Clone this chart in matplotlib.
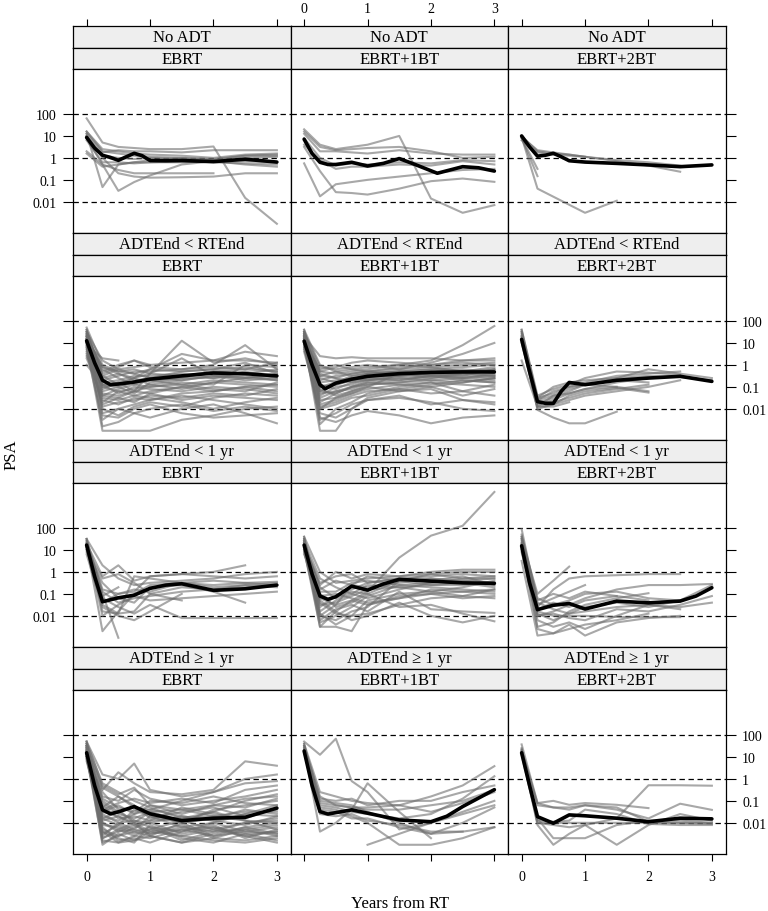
import numpy as np
import matplotlib.pyplot as plt
from matplotlib.ticker import FixedLocator, NullLocator, NullFormatter, FixedFormatter

plt.rcParams['font.family'] = ['Liberation Serif', 'DejaVu Serif']

# ---------------------------------------------------------------
# data: PSA, stored as log10(PSA)
# one row = one patient, measured at the visit times below
# ---------------------------------------------------------------
N = None
visits = [0, 0.25, 0.5, 0.75, 1, 1.5, 2, 2.5, 3]

adt_groups = ["No ADT", "ADTEnd < RTEnd", "ADTEnd < 1 yr", "ADTEnd \u2265 1 yr"]
rt_groups = ["EBRT", "EBRT+1BT", "EBRT+2BT"]

psa_ticks = [0.01, 0.1, 1, 10, 100]
psa_tick_labels = ["0.01", "0.1", "1", "10", "100"]
ref_lines = [0.01, 1, 100]
year_ticks = [0, 1, 2, 3]
year_tick_labels = ["0", "1", "2", "3"]

# --- No ADT ---
noadt_ebrt = [
    [1.8, 0.7, 0.5, 0.45, 0.4, 0.4, 0.52, -1.82, -3.0],
    [1.1, -1.33, -0.3, -0.2, -0.1, 0.0, -0.1, 0.1, 0.15],
    [0.3, -0.3, -1.5, -1.1, -0.8, -0.3, -0.15, -0.15, -0.2],
    [0.9, -0.3, -0.55, -0.7, -0.7, -0.7, -0.7, N, N],
    [1.0, 0.0, -0.7, -0.85, -0.9, -0.88, -0.85, -0.7, -0.7],
    [1.2, 0.4, 0.3, 0.2, 0.15, 0.1, 0.0, 0.15, 0.2],
    [1.0, 0.1, 0.0, -0.05, 0.0, -0.05, -0.1, 0.0, 0.05],
    [0.8, -0.2, -0.2, -0.25, -0.2, -0.2, -0.15, -0.3, -0.4],
    [1.1, 0.25, 0.35, 0.3, 0.3, 0.25, 0.35, 0.35, 0.35],
    [0.2, -0.4, -0.3, -0.2, -0.2, -0.15, -0.2, -0.25, -0.3],
    [1.2, 0.3, 0.2, 0.1, 0.05, 0.0, -0.05, 0.1, 0.1],
]
noadt_ebrt1 = [
    [1.3, 0.6, 0.4, 0.5, 0.6, 1.0, -1.85, -2.5, -2.15],
    [1.2, 0.5, 0.35, 0.4, 0.45, 0.5, 0.3, 0.0, 0.05],
    [1.1, 0.3, 0.3, 0.25, 0.2, 0.35, 0.2, 0.15, 0.15],
    [0.9, 0.0, -0.35, -0.25, -0.3, -0.2, -0.25, -0.1, -0.15],
    [-0.25, -1.75, -1.2, -1.1, -1.0, -0.85, -0.7, -0.55, -0.5],
    [0.5, -0.6, -1.56, -1.6, -1.67, -1.4, -1.06, -0.94, -1.09],
    [0.6, -0.1, -0.5, -0.4, -0.4, -0.3, -0.35, -0.15, -0.3],
]
noadt_ebrt2 = [
    [1.0, 0.3, 0.2, 0.15, 0.05, -0.1, -0.2, -0.35, N],
    [0.95, 0.35, 0.25, 0.15, 0.05, -0.15, -0.35, -0.63, N],
    [0.9, -0.83, N, N, N, N, N, N, N],
    [0.95, -1.4, N, N, -2.5, -1.95, N, N, N],
    [0.8, 0.25, 0.15, 0.1, 0.05, N, N, N, N],
    [0.9, -0.5, N, N, N, N, N, N, N],
]

# --- ADTEnd < RTEnd ---
rtend_ebrt = [
    [1.5, 0.2, -0.2, -0.1, 0.0, 0.1, 0.2, 0.2, 0.1],
    [1.3, -0.1, -0.3, -0.4, -0.2, -0.3, -0.2, -0.1, -0.3],
    [1.6, -0.5, -0.9, -0.6, -0.4, 1.1, 0.1, 0.3, 0.0],
    [1.2, -1.0, -1.2, -1.1, -0.9, -0.7, -0.5, -0.4, -0.5],
    [1.0, -1.5, -1.6, -1.4, -1.2, -1.0, -0.8, -0.6, -0.7],
    [0.9, -3.0, -3.0, -3.0, -3.0, -2.5, -2.3, -2.0, -1.9],
    [1.4, -2.2, -2.0, -1.8, -1.6, -1.3, -1.2, -1.0, -1.2],
    [1.1, -0.8, -0.7, -0.5, -0.5, -0.4, -0.6, -0.5, -0.7],
    [0.8, -1.8, -1.5, -1.7, -1.3, -1.6, -1.4, -1.5, -1.6],
    [1.3, -0.3, 0.0, 0.2, -0.1, -0.2, 0.0, 0.9, -0.2],
    [1.5, -1.2, -1.0, -1.3, -0.8, -0.6, -0.3, -0.2, -0.3],
    [0.6, -2.5, -2.0, -2.2, -2.4, -2.0, -1.8, -2.2, -2.66],
    [1.0, -0.6, -0.4, -0.7, -0.6, -0.5, -0.4, -0.6, -0.4],
    [1.2, -1.4, -1.1, -0.9, -0.7, -0.9, -0.7, -0.8, -0.9],
    [0.4, -0.9, -1.3, -1.0, -1.1, -1.2, -1.0, -1.1, -1.3],
    [1.7, 0.0, -0.3, -0.2, -0.4, -0.5, -0.3, -0.4, -0.2],
    [1.1, -2.0, -2.3, -1.9, -1.7, -1.9, -1.5, -1.3, -1.4],
    [1.3, -0.2, -0.6, -0.9, -1.0, -0.8, -0.9, 0.0, -0.1],
    [0.7, -1.6, -1.8, -1.5, -1.6, -1.4, -1.6, -1.8, -2.0],
    [1.4, -0.7, -0.5, -0.3, -0.3, -0.2, -0.1, -0.2, 0.1],
    [1.0, -1.1, -0.8, -1.2, -0.4, 0.3, -0.5, -0.7, -0.6],
    [1.2, -2.8, -2.6, -2.2, -2.0, -1.8, -2.1, -1.9, -2.1],
    [0.9, 0.3, 0.2, N, N, N, N, N, N],
    [1.5, -0.4, -0.1, 0.2, 0.0, N, N, N, N],
    [1.1, -1.3, -1.4, -1.2, -1.0, -0.9, -1.1, -1.2, -0.8],
    [1.6, -0.9, -0.8, -0.6, -0.9, -1.1, -0.8, -0.9, -1.0],
    [0.5, -1.7, -1.2, -1.4, -1.5, -1.7, -2.0, -1.7, -1.5],
    [1.3, -0.5, -0.2, -0.4, -0.6, -0.3, -0.2, 0.1, -0.4],
    [0.8, -2.3, -2.4, -2.0, -1.8, -2.2, -2.4, -2.3, -2.2],
    [1.4, -1.0, -0.9, -0.8, -0.7, -0.6, -0.6, -0.3, -0.6],
    [1.0, -1.9, -1.7, -1.6, -1.4, -1.5, -1.3, -1.4, -1.1],
    [1.2, -0.1, -0.4, -0.6, -0.2, 0.5, 0.2, 0.6, 0.4],
    [0.0, -0.9, -1.0, -0.8, -0.6, -0.7, -0.5, -0.6, -0.5],
    [0.3, -1.4, -1.5, -1.2, -1.3, -1.0, -1.2, -1.0, -0.9],
]
rtend_ebrt1 = [
    [1.3, 0.4, 0.3, 0.35, 0.3, 0.3, 0.3, 0.2, 0.2],
    [1.6, 0.0, -0.3, -0.2, -0.1, 0.0, 0.2, 0.9, 1.77],
    [1.2, -0.5, -0.6, -0.4, -0.3, -0.2, 0.1, 0.5, 1.0],
    [1.4, -1.2, -1.3, -1.0, -0.7, -0.5, -0.4, -0.3, -0.3],
    [1.1, -3.0, -3.0, -2.0, -1.5, -1.2, -1.0, -0.8, -0.6],
    [0.9, -2.0, -1.8, -1.5, -1.4, -1.1, -0.9, -0.7, -0.8],
    [1.5, -0.8, -0.7, -0.6, -0.5, -0.4, -0.3, -0.5, -0.2],
    [1.0, -1.5, -1.2, -1.0, -0.9, -0.8, -0.7, -0.6, -0.5],
    [1.3, -2.5, -2.2, -1.8, -1.6, -1.5, -1.7, -2.0, -2.1],
    [0.7, -1.0, -0.9, -0.7, -0.6, -0.5, -0.4, -0.3, -0.4],
    [1.2, -0.3, -0.4, -0.3, -0.2, 0.0, -0.1, 0.0, 0.1],
    [1.4, -1.8, -1.6, -1.3, -1.1, -0.9, -0.8, -1.2, -1.4],
    [1.1, -0.6, -0.8, -0.5, -0.4, -0.3, -0.2, -0.1, 0.0],
    [0.8, -2.2, -2.4, -2.0, -1.6, -1.4, -1.8, -1.6, -1.7],
    [1.5, -0.9, -1.1, -0.8, -0.7, -0.6, -0.5, -0.4, -0.5],
    [1.3, -1.4, -1.0, -0.9, -0.6, -0.7, -0.5, -0.6, -0.7],
    [1.0, -0.2, 0.0, -0.2, -0.3, -0.4, -0.3, -0.2, -0.3],
    [1.6, -1.1, -1.4, -1.2, -1.0, -0.4, -0.6, -0.4, -0.2],
    [1.2, -2.7, -2.0, -1.7, -1.3, -1.0, -0.8, -0.9, -1.0],
    [0.9, -1.6, -1.5, -1.2, -0.9, -0.8, -0.6, -0.5, -0.6],
    [1.4, -0.4, -0.6, -0.8, -0.5, -0.5, -0.4, -0.6, -0.4],
    [1.1, -1.3, -1.2, -1.1, -0.8, -0.9, -1.0, -1.4, -1.1],
    [1.3, -0.7, -0.5, -0.4, -0.3, -0.1, 0.0, 0.2, 0.3],
    [1.0, -1.9, -1.7, -1.4, -1.2, -1.1, -1.3, -1.2, -0.9],
    [1.5, -0.1, -0.2, -0.1, 0.0, -0.2, -0.1, -0.3, -0.1],
    [1.2, -1.0, -0.8, -0.6, -0.7, -0.6, -0.7, -0.8, -0.6],
    [0.8, -2.4, -2.6, -2.3, -2.1, -2.3, -2.66, -2.4, -2.3],
    [1.4, -1.7, -1.3, -1.0, -0.8, -0.7, -0.5, -0.4, -0.5],
    [1.1, -0.5, -0.3, -0.5, -0.4, -0.3, -0.5, -0.7, -0.8],
    [1.3, -1.2, -0.9, -0.7, -0.4, -0.3, -0.2, -0.3, -0.2],
    [0.6, -2.0, -1.5, -1.3, -1.0, -1.2, -1.1, -1.6, -1.8],
    [1.5, -0.3, -0.1, 0.1, 0.2, 0.1, 0.0, 0.1, 0.0],
]
rtend_ebrt2 = [
    [1.6, -1.5, -1.3, -1.0, -0.8, -0.5, -0.4, -0.3, N],
    [1.3, -1.7, -1.5, -1.2, -0.9, -0.6, -0.2, -0.4, -0.6],
    [1.1, -1.8, -1.6, -1.3, -1.1, -0.8, -0.6, -0.5, -0.75],
    [1.5, -1.6, -1.2, -1.0, -0.9, -0.7, -0.8, N, N],
    [0.2, -1.9, -1.4, -1.1, -0.9, -1.0, -1.2, N, N],
    [1.4, -2.05, -2.4, -2.66, -2.66, -2.13, N, N, N],
    [1.2, -1.75, -1.7, -1.5, -1.3, -1.1, -0.9, N, N],
    [1.0, -1.9, -1.8, -1.6, -1.4, -1.2, -1.0, -0.7, N],
    [1.3, -1.5, -1.0, -0.8, -0.7, -0.6, -0.5, -0.55, -0.7],
    [1.2, -1.9, -1.9, -1.7, N, N, N, N, N],
    [1.5, -1.6, -1.4, -1.3, -1.1, -1.0, N, N, N],
    [1.1, -2.0, -1.8, -1.4, -1.2, -1.05, -1.26, N, N],
    [1.6, -1.4, -1.1, -0.9, -0.6, -0.3, -0.35, -0.45, N],
]

# --- ADTEnd < 1 yr ---
yr1_ebrt = [
    [1.5, 0.3, -0.3, -0.6, -0.5, -0.4, -0.3, -0.1, 0.0],
    [1.3, -0.2, 0.3, -0.4, -0.2, -0.1, 0.0, 0.3, N],
    [1.2, -2.7, -1.8, -1.0, -0.6, -0.5, -0.6, -0.5, -0.6],
    [1.0, -1.0, -3.0, N, N, N, N, N, N],
    [1.4, -0.8, -1.0, -0.9, -0.2, -0.1, -0.2, -0.3, -0.2],
    [1.1, -1.5, -1.9, -1.8, -1.0, -0.7, -0.8, -0.6, -0.5],
    [1.3, -1.2, -1.6, -1.9, -1.5, -2.1, -2.1, -2.1, -2.1],
    [0.9, -0.5, -1.2, -1.4, -0.7, -0.6, -0.9, -1.4, N],
    [1.5, -1.8, -1.9, -0.2, -0.3, -0.5, -0.7, -0.6, -0.7],
    [1.2, -2.0, -1.5, -1.1, -1.3, -1.2, -1.1, -1.0, -0.9],
    [1.0, -0.3, -0.1, -0.5, -1.0, -1.3, N, N, N],
    [1.4, -1.4, -1.0, -0.8, -0.9, -0.5, -0.4, -0.5, -0.45],
    [0.8, -1.6, -2.0, -2.2, -1.8, -1.0, N, N, N],
    [1.3, -0.9, -1.4, -1.2, -1.1, -0.9, -0.8, -0.7, -0.6],
    [1.5, -1.1, -0.7, N, N, N, N, N, N],
]
yr1_ebrt1 = [
    [1.6, 0.0, -0.5, -0.4, -0.3, -0.2, -0.1, 0.0, 0.0],
    [1.3, -2.5, -1.8, -1.3, -0.9, 0.65, 1.65, 2.1, 3.64],
    [1.2, -0.6, 0.0, -0.3, -0.1, -0.2, 0.0, 0.1, 0.1],
    [1.4, -1.2, -1.5, -0.6, -0.2, -0.4, -0.1, -0.3, -0.2],
    [1.0, -2.5, -2.5, -2.7, -1.5, -1.2, -1.0, -0.9, -0.8],
    [1.5, -1.8, -1.3, -1.0, -1.2, -0.8, -0.5, -0.4, -0.5],
    [1.1, -1.0, -1.6, -1.4, -1.0, -1.6, -1.5, -1.9, -2.25],
    [0.9, -2.0, -2.2, -1.8, -1.6, -0.4, -0.6, -0.5, -0.6],
    [1.3, -0.8, -0.4, -0.6, -0.7, -0.5, -0.3, -0.5, -0.7],
    [1.6, -1.4, -1.9, -2.0, -1.3, -1.0, -0.9, -0.7, -0.4],
    [1.2, -1.6, -1.1, -0.8, -0.5, -0.3, -0.2, -0.1, -0.2],
    [1.0, -2.2, -1.7, -1.5, -1.8, -0.9, -1.7, -1.8, -1.87],
    [1.4, -0.3, -0.7, -1.0, -0.6, -0.7, -0.6, -0.6, -0.5],
    [1.1, -1.1, -1.0, -1.2, -1.4, -1.2, -0.8, -0.9, -1.0],
    [1.5, -2.3, -2.0, -1.6, -1.1, -0.6, -0.5, -0.3, -0.3],
    [0.8, -0.9, -0.9, -0.5, -0.4, -0.6, -0.7, -0.8, -0.9],
    [1.3, -1.9, -2.4, -2.0, -1.9, -1.5, -1.2, -1.1, -1.2],
    [1.2, -0.5, -0.2, -0.1, -0.5, -0.3, -0.4, -0.2, -0.6],
    [1.4, -1.5, -1.4, -1.1, -0.8, -0.7, -0.9, -1.1, -0.8],
    [1.0, -1.3, -1.8, -2.2, -2.0, -1.4, -2.0, -2.3, -2.0],
    [1.3, -0.7, -1.2, -0.9, -1.0, -0.4, -0.3, -0.4, -0.3],
    [1.5, -2.0, -1.5, -1.3, -1.5, -1.1, -1.0, -1.2, -1.1],
]
yr1_ebrt2 = [
    [1.95, -1.5, -1.2, -0.9, -0.6, N, N, N, N],
    [1.5, -1.0, -0.4, 0.24, N, N, N, N, N],
    [1.3, -1.6, -0.8, -0.3, -0.2, -0.15, -0.1, -0.1, N],
    [1.6, -2.0, -1.8, -1.5, -1.2, -0.8, -0.6, -0.6, -0.55],
    [1.0, -2.5, -2.3, -1.8, -1.5, -1.2, -0.97, N, N],
    [1.4, -1.4, -1.7, -1.9, -1.8, -1.6, -1.5, -1.6, -1.4],
    [0.5, -2.9, -2.8, -2.6, -2.4, -2.2, -1.9, N, N],
    [1.2, -1.8, -2.0, -2.0, -2.0, -2.05, -2.06, -2.06, N],
    [1.7, -1.2, -1.5, -1.3, -1.0, -0.9, -1.2, -1.3, N],
    [1.1, -2.2, -2.5, -2.3, -2.6, -2.0, -1.5, -1.7, N],
    [1.5, -1.7, -1.4, -1.6, -1.3, -1.1, N, N, N],
    [0.9, -2.0, -1.9, -2.1, -2.2, -1.7, -1.8, -1.5, -1.1],
    [1.3, -2.6, -2.8, -2.4, -2.9, -2.3, -2.1, -2.0, N],
    [1.6, -1.3, -1.0, -1.2, -0.9, -1.1, -1.3, N, N],
    [1.2, -1.9, -2.2, -1.9, -1.6, -1.4, -1.6, -1.3, -0.6],
]

# --- ADTEnd >= 1 yr ---
yr_ebrt = [
    [1.7, 0.2, 0.0, 0.7, -0.5, -0.8, -0.6, 0.0, 0.2],
    [1.5, -0.5, 0.3, -0.2, -0.6, -0.7, -0.5, 0.8, 0.6],
    [1.3, -2.0, -2.4, -2.3, -2.5, -2.2, -2.4, -2.3, -2.1],
    [1.2, -3.0, -2.5, -2.8, -2.4, -2.6, -2.8, -2.9, -2.7],
    [1.4, -1.5, -1.2, -1.6, -1.4, -1.0, -0.6, -0.2, -0.1],
    [1.6, -0.2, -0.6, -1.0, -1.3, -1.8, -1.5, -1.0, -0.7],
    [1.0, -2.6, -2.0, -1.9, -2.2, -2.4, -2.0, -1.6, -1.2],
    [1.1, -1.1, -1.6, -1.8, -1.5, -1.4, -1.7, -1.9, -2.3],
    [1.5, -2.3, -2.6, -2.2, -2.0, -2.5, -2.2, -2.6, -2.4],
    [0.9, -1.8, -2.1, -1.4, -1.7, -2.0, -1.8, -1.4, -1.6],
    [1.3, -0.8, -1.0, -0.5, -0.9, -1.2, -1.0, -0.8, -0.5],
    [1.7, -2.8, -2.9, -2.6, -2.7, -2.3, -2.6, -2.4, -2.5],
    [1.2, -1.3, -0.8, -1.2, -1.8, -1.5, -1.3, -1.7, -1.4],
    [1.4, -2.1, -2.2, -2.5, -2.3, -1.9, -2.3, -2.0, -1.8],
    [1.0, -0.6, -1.4, -2.0, -2.6, -2.9, -2.5, -2.2, -2.0],
    [1.6, -1.7, -1.9, -1.6, -1.2, -1.6, -1.2, -1.3, -0.9],
    [1.1, -2.4, -2.7, -2.9, -2.1, -2.7, -2.9, -2.5, -2.8],
    [1.3, -1.0, -1.5, -1.9, -2.0, -1.7, -1.9, -2.1, -1.7],
    [1.5, -2.7, -2.3, -2.0, -2.4, -2.1, -2.7, -2.8, -2.6],
    [0.8, -1.9, -1.7, -2.1, -1.9, -1.3, -1.6, -1.8, -1.3],
    [1.4, -0.4, -0.8, -1.3, -1.6, -2.0, -1.4, -1.2, -1.0],
    [1.2, -2.2, -2.8, -2.7, -2.9, -2.4, -2.1, -2.7, -2.3],
    [1.6, -1.4, -1.1, -0.9, -1.1, -0.9, -1.1, -0.5, -0.3],
    [1.0, -2.9, -2.6, -2.4, -2.2, -2.8, -2.4, -2.0, -1.9],
    [1.3, -1.6, -2.0, -2.3, -1.7, -2.2, -2.0, -2.4, -2.2],
    [1.5, -0.9, -1.3, -1.5, -1.0, -1.1, -0.8, -1.1, -1.2],
    [1.1, -2.5, -2.1, -2.4, -2.6, -2.0, -2.6, -2.2, -2.5],
    [1.4, -1.2, -1.8, -1.7, -1.9, -1.8, -1.7, -1.5, -1.5],
    [0.9, -2.0, -2.3, -2.6, -2.3, -2.6, -2.3, -2.6, -2.9],
    [1.7, -0.3, -0.7, -0.4, -1.2, -1.4, -1.2, -0.9, -0.8],
    [1.2, -2.7, -2.4, -2.1, -2.5, -2.3, -2.2, -2.5, -2.4],
    [1.3, -1.8, -1.5, -1.3, -1.4, -1.7, -1.9, -1.6, -1.7],
    [1.5, -2.4, -2.9, -2.8, -2.6, -2.9, -2.7, -2.3, -2.6],
    [1.0, -1.5, -1.7, -2.0, -1.5, -1.9, -1.5, -1.9, -2.0],
]
yr_ebrt1 = [
    [1.7, 1.1, 1.83, -0.1, -0.6, -2.3, -2.0, -1.6, -1.2],
    [1.6, -0.6, -0.8, -1.0, -1.1, -1.2, -0.8, -0.3, 0.58],
    [1.5, -0.9, -1.0, -0.9, -1.2, -1.0, -1.0, -0.6, -0.3],
    [1.4, -2.4, -2.0, -1.4, -0.2, -1.5, -2.7, N, N],
    [1.3, -1.2, -1.3, -1.5, -1.6, -1.8, -1.6, -0.9, 0.12],
    [1.5, -0.8, -1.2, -1.3, -1.4, -1.4, -1.2, -1.0, -0.5],
    [1.2, -1.6, -1.7, -1.6, -1.9, -2.1, -2.4, -2.4, -2.2],
    [1.6, -1.4, -1.5, -1.8, -1.8, -2.2, -2.5, -2.0, -1.3],
    [N, N, N, N, -3.0, -2.5, -2.0, -1.5, -1.0],
    [1.3, -1.0, -1.1, -1.2, -1.5, -2.0, -2.5, -2.4, N],
    [1.4, -1.3, -1.4, -1.7, -2.0, -3.0, -3.0, -2.7, -2.2],
    [1.5, -1.1, -1.2, -1.3, -1.3, -1.2, -1.5, -1.1, -0.6],
]
yr_ebrt2 = [
    [1.57, -1.1, -1.0, -1.18, -1.1, -1.18, -1.33, N, N],
    [1.4, -2.0, -2.1, -2.2, -2.1, -1.8, -0.29, -0.29, -0.31],
    [1.3, -2.1, -3.0, -2.5, -2.1, -3.0, -2.1, -1.6, -1.9],
    [1.2, -1.8, -2.7, -2.7, -2.7, -2.1, -1.9, -1.9, -2.0],
    [1.35, -1.2, -1.3, -1.4, -1.2, -1.4, -1.8, -1.13, -1.41],
    [1.1, -2.0, -2.0, -2.0, -2.0, -2.0, -2.0, -2.0, -2.05],
    [1.3, -1.1, -1.3, -1.3, -1.2, -1.3, -1.95, -2.0, -2.0],
    [1.25, -1.9, -1.95, -1.9, -1.4, -1.6, -2.05, -2.1, -2.1],
]

# smooth group curves (year, log10 PSA)
fit_noadt_ebrt = [(0, 0.93), (0.125, 0.45), (0.25, 0.12), (0.375, 0.02), (0.5, -0.11),
                  (0.625, 0.05), (0.75, 0.21), (0.875, 0.1), (1, -0.12), (1.25, -0.13),
                  (1.5, -0.12), (2, -0.17), (2.5, -0.06), (3, -0.19)]
fit_noadt_ebrt1 = [(0, 0.85), (0.125, 0.2), (0.25, -0.2), (0.375, -0.3), (0.5, -0.3),
                   (0.75, -0.2), (1, -0.37), (1.25, -0.25), (1.5, -0.03), (1.75, -0.3),
                   (2.1, -0.7), (2.5, -0.4), (2.75, -0.45), (3, -0.6)]
fit_noadt_ebrt2 = [(0, 1.0), (0.125, 0.5), (0.25, 0.08), (0.375, 0.12), (0.5, 0.21),
                   (0.625, 0.05), (0.75, -0.13), (1, -0.19), (1.5, -0.25), (2, -0.32),
                   (2.5, -0.4), (3, -0.32)]
fit_rtend_ebrt = [(0, 1.1), (0.125, 0.1), (0.25, -0.7), (0.375, -0.9), (0.5, -0.87),
                  (0.75, -0.78), (1, -0.65), (1.5, -0.5), (2, -0.37), (2.5, -0.4), (3, -0.5)]
fit_rtend_ebrt1 = [(0, 1.08), (0.125, 0.0), (0.25, -0.9), (0.33, -1.09), (0.5, -0.83),
                   (0.75, -0.65), (1, -0.52), (1.5, -0.4), (2, -0.34), (2.5, -0.32), (3, -0.32)]
fit_rtend_ebrt2 = [(0, 1.16), (0.125, -0.3), (0.25, -1.67), (0.375, -1.75), (0.5, -1.75),
                   (0.625, -1.2), (0.75, -0.8), (1, -0.9), (1.5, -0.7), (2, -0.6),
                   (2.5, -0.52), (3, -0.75)]
fit_yr1_ebrt = [(0, 1.22), (0.125, -0.2), (0.25, -1.36), (0.5, -1.18), (0.75, -1.06),
                (1, -0.75), (1.25, -0.6), (1.5, -0.54), (2, -0.84), (2.5, -0.77), (3, -0.6)]
fit_yr1_ebrt1 = [(0, 1.22), (0.125, -0.1), (0.25, -1.1), (0.375, -1.25), (0.5, -1.13),
                 (0.75, -0.65), (1, -0.83), (1.25, -0.55), (1.5, -0.34), (2, -0.42),
                 (2.5, -0.5), (3, -0.52)]
fit_yr1_ebrt2 = [(0, 1.19), (0.125, -0.5), (0.25, -1.72), (0.5, -1.52), (0.75, -1.44),
                 (1, -1.69), (1.5, -1.33), (2, -1.41), (2.5, -1.33), (2.75, -1.1), (3, -0.72)]
fit_yr_ebrt = [(0, 1.19), (0.125, -0.3), (0.25, -1.41), (0.375, -1.59), (0.5, -1.5),
               (0.75, -1.26), (1, -1.59), (1.5, -1.9), (2, -1.79), (2.5, -1.75), (3, -1.33)]
fit_yr_ebrt1 = [(0, 1.27), (0.125, -0.3), (0.25, -1.49), (0.375, -1.6), (0.75, -1.41),
                (1, -1.56), (1.5, -1.87), (2, -1.95), (2.25, -1.7), (2.5, -1.26), (3, -0.49)]
fit_yr_ebrt2 = [(0, 1.19), (0.125, -0.3), (0.25, -1.72), (0.5, -2.02), (0.75, -1.64),
                (1, -1.68), (1.5, -1.79), (2, -1.95), (2.5, -1.79), (3, -1.82)]

patients = [[noadt_ebrt, noadt_ebrt1, noadt_ebrt2],
            [rtend_ebrt, rtend_ebrt1, rtend_ebrt2],
            [yr1_ebrt, yr1_ebrt1, yr1_ebrt2],
            [yr_ebrt, yr_ebrt1, yr_ebrt2]]
fits = [[fit_noadt_ebrt, fit_noadt_ebrt1, fit_noadt_ebrt2],
        [fit_rtend_ebrt, fit_rtend_ebrt1, fit_rtend_ebrt2],
        [fit_yr1_ebrt, fit_yr1_ebrt1, fit_yr1_ebrt2],
        [fit_yr_ebrt, fit_yr_ebrt1, fit_yr_ebrt2]]

# ---------------------------------------------------------------
# layout (pixels), lattice style
# ---------------------------------------------------------------
W, H = 768, 912
fig = plt.figure(figsize=(W / 100, H / 100), dpi=100)

col_x = [73, 290.5, 508]
panel_w = 217.5
row_h = 207
top0 = 27
strip_h = 21.7
strip_col = '#EEEEEE'
xlim = (-0.215, 3.215)
ylim = (10 ** -3.42, 10 ** 4.03)
t = np.array(visits)


def frac(x, y, w, h):
    return [x / W, 1 - (y + h) / H, w / W, h / H]


for r in range(4):
    top = top0 + r * row_h
    for c in range(3):
        x = col_x[c]
        # strips
        strips = []
        for k, lab in enumerate([adt_groups[r], rt_groups[c]]):
            s = fig.add_axes(frac(x, top + k * strip_h, panel_w, strip_h))
            s.set_facecolor(strip_col)
            s.set_xlim(xlim)
            s.set_ylim(0, 1)
            s.set_xticks([])
            s.set_yticks([])
            for sp in s.spines.values():
                sp.set_linewidth(0.9)
            s.text(0.5, 0.48, lab, transform=s.transAxes, ha='center', va='center',
                   fontsize=12)
            strips.append(s)

        # top ticks above the upper strip for first row
        if r == 0:
            s = strips[0]
            s.xaxis.set_ticks_position('top')
            s.set_xticks(year_ticks)
            s.tick_params(axis='x', direction='out', length=5, width=0.8, pad=3,
                          labelsize=10, top=True, labeltop=(c == 1), bottom=False)
            if c != 1:
                s.set_xticklabels([])
            else:
                s.set_xticklabels(year_tick_labels)

        ax = fig.add_axes(frac(x, top + 2 * strip_h, panel_w, row_h - 2 * strip_h))
        ax.set_yscale('log')
        ax.set_xlim(xlim)
        ax.set_ylim(ylim)
        for sp in ax.spines.values():
            sp.set_linewidth(0.9)

        for yv in ref_lines:
            ax.axhline(yv, color='black', lw=0.9, ls=(0, (4.3, 2.9)), zorder=1)

        for row in patients[r][c]:
            v = np.array(row, dtype=float)
            m = ~np.isnan(v)
            ax.plot(t[m], 10 ** v[m], color='#6E6E6E', alpha=0.6, lw=1.5,
                    solid_joinstyle='round', zorder=2)

        ft = [p[0] for p in fits[r][c]]
        fv = [10 ** p[1] for p in fits[r][c]]
        ax.plot(ft, fv, color='black', lw=2.6, solid_joinstyle='round',
                solid_capstyle='round', zorder=3)

        # y axis
        ax.yaxis.set_major_locator(FixedLocator(psa_ticks))
        ax.yaxis.set_minor_locator(NullLocator())
        ax.yaxis.set_major_formatter(FixedFormatter(psa_tick_labels))
        ax.tick_params(axis='y', direction='out', length=7, width=0.8, pad=5,
                       labelsize=10,
                       left=(c == 0), labelleft=(c == 0 and r in (0, 2)),
                       right=(c == 2), labelright=(c == 2 and r in (1, 3)))

        # x axis
        ax.set_xticks(year_ticks)
        if r == 3 and c in (0, 2):
            ax.set_xticklabels(year_tick_labels)
        else:
            ax.xaxis.set_major_formatter(NullFormatter())
        ax.tick_params(axis='x', direction='out', length=5, width=0.8, pad=6.5,
                       labelsize=10, bottom=(r == 3), top=False,
                       labelbottom=(r == 3 and c in (0, 2)))

fig.text(12 / W, 1 - 455 / H, 'PSA', rotation=90, ha='center', va='center', fontsize=12)
fig.text(400 / W, 1 - 904 / H, 'Years from RT', ha='center', va='center', fontsize=12)

fig.savefig('out.png', dpi=100)
